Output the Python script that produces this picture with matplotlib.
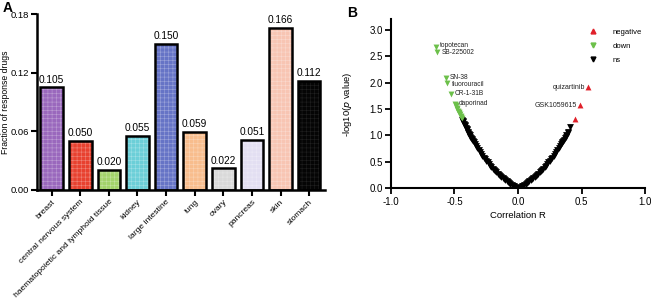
import numpy as np
import matplotlib
matplotlib.use("Agg")
import matplotlib.pyplot as plt
import matplotlib.colors as mcolors
from matplotlib.lines import Line2D

plt.rcParams['font.family'] = ['Liberation Sans', 'DejaVu Sans']
plt.rcParams['hatch.linewidth'] = 0.4

# ---- panel A data ----
tissues = ['breast', 'central nervous system', 'haematopoietic and lymphoid tissue',
           'kidney', 'large intestine', 'lung', 'ovary', 'pancreas', 'skin', 'stomach']
fractions = [0.105, 0.050, 0.020, 0.055, 0.150, 0.059, 0.022, 0.051, 0.166, 0.112]
bar_colors = ['#9a68bd', '#e8412f', '#a3d36a', '#6ccfd8', '#6674c6',
              '#f8bd8d', '#d9d9d9', '#e3dff2', '#f8c5b3', '#050505']
a_yticks = [0.00, 0.06, 0.12, 0.18]

# ---- panel B data ----
ns_left_r = [-0.44, -0.435, -0.43, -0.425, -0.42, -0.415, -0.41, -0.405, -0.40, -0.395,
             -0.39, -0.385, -0.38, -0.375, -0.37, -0.365, -0.36, -0.355, -0.35,
             -0.34, -0.33, -0.32, -0.31, -0.30, -0.29, -0.28, -0.27, -0.26, -0.25,
             -0.24, -0.23, -0.22, -0.21, -0.20, -0.19, -0.18, -0.17, -0.16, -0.15,
             -0.14, -0.13, -0.12, -0.11, -0.10, -0.09, -0.08, -0.07, -0.06, -0.05,
             -0.04, -0.03, -0.02, -0.01, 0.00]
ns_left_y = [1.30, 1.27, 1.25, 1.22, 1.20, 1.17, 1.15, 1.12, 1.10, 1.07,
             1.05, 1.03, 1.01, 0.98, 0.96, 0.94, 0.92, 0.90, 0.88,
             0.84, 0.80, 0.76, 0.72, 0.69, 0.65, 0.62, 0.58, 0.55, 0.52,
             0.49, 0.46, 0.43, 0.40, 0.37, 0.35, 0.32, 0.30, 0.27, 0.25,
             0.23, 0.21, 0.19, 0.17, 0.15, 0.13, 0.11, 0.10, 0.08, 0.07,
             0.05, 0.04, 0.03, 0.01, 0.00]
ns_right_r = [0.01, 0.02, 0.03, 0.04, 0.05, 0.06, 0.07, 0.08, 0.09, 0.10,
              0.11, 0.12, 0.13, 0.14, 0.15, 0.16, 0.17, 0.18, 0.19, 0.20,
              0.21, 0.22, 0.23, 0.24, 0.25, 0.26, 0.27, 0.28, 0.29, 0.30,
              0.31, 0.32, 0.33, 0.34, 0.345, 0.35, 0.355, 0.36, 0.37, 0.375,
              0.38, 0.39, 0.395, 0.41]
ns_right_y = [0.01, 0.03, 0.04, 0.05, 0.07, 0.08, 0.10, 0.11, 0.13, 0.15,
              0.17, 0.19, 0.21, 0.23, 0.25, 0.27, 0.30, 0.32, 0.35, 0.37,
              0.40, 0.43, 0.46, 0.49, 0.52, 0.55, 0.58, 0.62, 0.65, 0.69,
              0.72, 0.76, 0.80, 0.84, 0.86, 0.88, 0.90, 0.92, 0.96, 0.98,
              1.01, 1.05, 1.07, 1.16]
down_r = [-0.646, -0.635, -0.570, -0.557, -0.530, -0.496,
          -0.492, -0.487, -0.482, -0.477, -0.472, -0.467, -0.462, -0.457,
          -0.452, -0.448, -0.444]
down_y = [2.68, 2.58, 2.08, 1.99, 1.79, 1.60,
          1.57, 1.55, 1.52, 1.50, 1.47, 1.45, 1.42, 1.40,
          1.37, 1.35, 1.33]
down_names = ['topotecan', 'SB-225002', 'SN-38', 'fluorouracil', 'CR-1-31B', 'daporinad',
              '', '', '', '', '', '', '', '', '', '', '']
neg_r = [0.549, 0.488, 0.449]
neg_y = [1.91, 1.57, 1.32]
neg_names = ['quizartinib', 'GSK1059615', '']


def lighten(c, amt):
    rgb = np.array(mcolors.to_rgb(c))
    return tuple(rgb + (1 - rgb) * amt)


fig = plt.figure(figsize=(6.51, 3.01), dpi=100)

# ================= panel A =================
axA = fig.add_axes([0.0573, 0.369, 0.4417, 0.5835])
x = np.arange(len(tissues))
for i, (v, c) in enumerate(zip(fractions, bar_colors)):
    hatch_c = lighten(c, 0.35) if c != '#050505' else '#202020'
    axA.bar(x[i], v, width=0.79, color=c, edgecolor=hatch_c, hatch='++++', linewidth=0)
    axA.bar(x[i], v, width=0.79, fill=False, edgecolor='black', linewidth=1.8)
    axA.text(x[i], v + 0.003, f'{v:.3f}', ha='center', va='bottom', fontsize=7.3)

axA.set_xlim(-0.5, 9.55)
axA.set_ylim(0, 0.18)
axA.set_yticks(a_yticks)
axA.set_yticklabels([f'{t:.2f}' for t in a_yticks], fontsize=6.8)
axA.set_xticks(x)
axA.set_xticklabels(tissues, rotation=45, ha='right', rotation_mode='anchor', fontsize=6.1)
axA.set_ylabel('Fraction of response drugs', fontsize=6.2)
axA.yaxis.set_label_coords(-0.095, 0.5)
for s in ['top', 'right']:
    axA.spines[s].set_visible(False)
for s in ['left', 'bottom']:
    axA.spines[s].set_linewidth(1.8)
axA.tick_params(axis='both', width=1.5, length=4, pad=2)
fig.text(0.004, 0.972, 'A', fontsize=10, fontweight='bold', va='center')

# ================= panel B =================
axB = fig.add_axes([0.6006, 0.3744, 0.3902, 0.5616])
mk = 24
axB.scatter(ns_left_r, ns_left_y, marker='v', s=mk, color='black', linewidths=0, zorder=3)
axB.scatter(ns_right_r, ns_right_y, marker='v', s=mk, color='black', linewidths=0, zorder=3)
axB.scatter(down_r, down_y, marker='v', s=18, color='#6cc04a', linewidths=0, zorder=4)
axB.scatter(neg_r, neg_y, marker='^', s=18, color='#e0202a', linewidths=0, zorder=4)

# small vertical nudges so the close label pairs don't collide
nudge = {'topotecan': 1.0, 'SB-225002': -0.6, 'SN-38': 1.0, 'fluorouracil': -0.6}
for r, y, n in zip(down_r, down_y, down_names):
    if n:
        axB.annotate(n, (r, y), xytext=(3, nudge.get(n, 0)), textcoords='offset points',
                     fontsize=4.8, va='center', ha='left', color='#222222')
for r, y, n in zip(neg_r, neg_y, neg_names):
    if n:
        axB.annotate(n, (r, y), xytext=(-2, 0), textcoords='offset points',
                     fontsize=5.0, va='center', ha='right', color='#222222')

handles = [Line2D([], [], marker='^', color='#e0202a', linestyle='', markersize=3.5),
           Line2D([], [], marker='v', color='#6cc04a', linestyle='', markersize=3.5),
           Line2D([], [], marker='v', color='black', linestyle='', markersize=3.5)]
axB.legend(handles, ['negative', 'down', 'ns'], loc='upper left',
           bbox_to_anchor=(0.755, 0.985), frameon=False, fontsize=5.5,
           handletextpad=2.0, labelspacing=0.85, handlelength=1.0)

axB.set_xlim(-1, 1)
axB.set_ylim(0, 3.2)
axB.set_xticks([-1.0, -0.5, 0.0, 0.5, 1.0])
axB.set_xticklabels(['-1.0', '-0.5', '0.0', '0.5', '1.0'], fontsize=7)
axB.set_yticks([0, 0.5, 1.0, 1.5, 2.0, 2.5, 3.0])
axB.set_yticklabels(['0.0', '0.5', '1.0', '1.5', '2.0', '2.5', '3.0'], fontsize=7)
axB.set_xlabel('Correlation R', fontsize=6.8, labelpad=3)
axB.set_ylabel(r'-log10($\it{p}$ value)', fontsize=6.8)
axB.yaxis.set_label_coords(-0.145, 0.5)
for s in ['top', 'right']:
    axB.spines[s].set_visible(False)
for s in ['left', 'bottom']:
    axB.spines[s].set_linewidth(1.5)
axB.tick_params(axis='both', width=1.3, length=4, pad=2)
fig.text(0.533, 0.958, 'B', fontsize=10, fontweight='bold', va='center')

fig.savefig('out.png', dpi=100)
